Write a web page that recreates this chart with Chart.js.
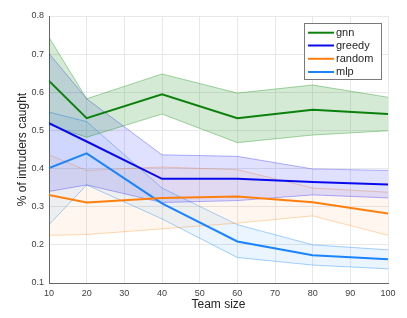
<!DOCTYPE html>
<html>
<head>
<meta charset="utf-8">
<script src="https://cdn.jsdelivr.net/npm/chart.js@4.4.1/dist/chart.umd.min.js"></script>
<style>
  html, body { margin: 0; padding: 0; background: #ffffff; }
  #wrap { width: 407px; height: 318px; position: relative; }
</style>
</head>
<body>
<div id="wrap"><canvas id="c" width="407" height="318"></canvas></div>
<script>
// ---- data ----
const teamSizes = [10, 20, 40, 60, 80, 100];

const gnnMean  = [0.630, 0.532, 0.595, 0.532, 0.554, 0.543];
const gnnUpper = [0.744, 0.583, 0.648, 0.598, 0.619, 0.587];
const gnnLower = [0.515, 0.482, 0.543, 0.468, 0.488, 0.499];

const greedyMean  = [0.519, 0.471, 0.373, 0.373, 0.365, 0.358];
const greedyUpper = [0.702, 0.583, 0.436, 0.432, 0.399, 0.395];
const greedyLower = [0.340, 0.357, 0.311, 0.316, 0.331, 0.323];

const randomMean  = [0.331, 0.311, 0.323, 0.327, 0.312, 0.282];
const randomUpper = [0.436, 0.395, 0.404, 0.397, 0.349, 0.338];
const randomLower = [0.225, 0.227, 0.242, 0.257, 0.276, 0.225];

const mlpMean  = [0.401, 0.440, 0.309, 0.209, 0.173, 0.162];
const mlpUpper = [0.548, 0.523, 0.349, 0.253, 0.200, 0.187];
const mlpLower = [0.253, 0.357, 0.268, 0.167, 0.147, 0.137];

const seriesNames = ['gnn', 'greedy', 'random', 'mlp'];
const yTicks = [0.1, 0.2, 0.3, 0.4, 0.5, 0.6, 0.7, 0.8];
const xTicks = [10, 20, 30, 40, 50, 60, 70, 80, 90, 100];

// ---- styles ----
const lineColors = ['#0b800b', '#0a0aee', '#ff7f0e', '#1a84ff'];
const bandFill   = ['rgba(0,128,0,0.17)', 'rgba(0,0,255,0.12)', 'rgba(255,140,30,0.07)', 'rgba(0,128,255,0.08)'];
const bandEdge   = ['rgba(0,140,0,0.35)', 'rgba(40,40,255,0.35)', 'rgba(255,140,30,0.35)', 'rgba(30,140,255,0.40)'];

const means  = [gnnMean, greedyMean, randomMean, mlpMean];
const uppers = [gnnUpper, greedyUpper, randomUpper, mlpUpper];
const lowers = [gnnLower, greedyLower, randomLower, mlpLower];

const toPts = arr => arr.map((v, i) => ({ x: teamSizes[i], y: v }));

const datasets = [];
// mean lines (indices 0..3)
seriesNames.forEach((name, i) => {
  datasets.push({
    label: name,
    data: toPts(means[i]),
    borderColor: lineColors[i],
    backgroundColor: lineColors[i],
    borderWidth: 2,
    pointRadius: 0,
    tension: 0,
    fill: false,
    order: 0
  });
});
// bands (upper fills to lower)
seriesNames.forEach((name, i) => {
  const upIdx = datasets.length;
  datasets.push({
    label: name + ' upper',
    data: toPts(uppers[i]),
    borderColor: bandEdge[i],
    backgroundColor: bandFill[i],
    borderWidth: 1,
    pointRadius: 0,
    tension: 0,
    fill: upIdx + 1,
    order: 5
  });
  datasets.push({
    label: name + ' lower',
    data: toPts(lowers[i]),
    borderColor: bandEdge[i],
    backgroundColor: bandFill[i],
    borderWidth: 1,
    pointRadius: 0,
    tension: 0,
    fill: false,
    order: 5
  });
});

const legendPlugin = {
  id: 'boxLegend',
  afterDraw(chart) {
    const ctx = chart.ctx;
    const bx = 304.5, by = 23.5, bw = 77, bh = 56;
    ctx.save();
    ctx.fillStyle = '#ffffff';
    ctx.fillRect(bx, by, bw, bh);
    ctx.strokeStyle = '#7a7a7a';
    ctx.lineWidth = 1;
    ctx.strokeRect(bx, by, bw, bh);
    ctx.font = '11px "Liberation Sans", Arial, sans-serif';
    ctx.textBaseline = 'middle';
    ctx.textAlign = 'left';
    const rowY = [32.7, 45.5, 58.8, 72.0];
    seriesNames.forEach((name, i) => {
      const y = rowY[i];
      ctx.strokeStyle = lineColors[i];
      ctx.lineWidth = 2;
      ctx.beginPath();
      ctx.moveTo(308, y);
      ctx.lineTo(334, y);
      ctx.stroke();
      ctx.fillStyle = '#262626';
      ctx.fillText(name, 336, y);
    });
    ctx.restore();
  }
};

new Chart(document.getElementById('c'), {
  type: 'line',
  data: { datasets },
  options: {
    responsive: false,
    animation: false,
    events: [],
    layout: { padding: { left: 0, top: 16, right: 19, bottom: 0 } },
    plugins: {
      legend: { display: false },
      tooltip: { enabled: false }
    },
    scales: {
      x: {
        type: 'linear',
        min: 10, max: 100,
        afterBuildTicks: s => { s.ticks = xTicks.map(v => ({ value: v })); },
        ticks: {
          font: { family: '"Liberation Sans", Arial, sans-serif', size: 9 },
          color: '#404040',
          padding: 5,
          maxRotation: 0,
          callback: v => String(v)
        },
        grid: { color: '#e8e8e8', drawTicks: false, lineWidth: 1 },
        border: { color: '#666666', width: 1 },
        title: {
          display: true,
          text: 'Team size',
          font: { family: '"Liberation Sans", Arial, sans-serif', size: 12 },
          color: '#262626',
          padding: { top: 0, bottom: 6 }
        },
        afterFit: s => { s.height = 35; }
      },
      y: {
        type: 'linear',
        min: 0.1, max: 0.8,
        afterBuildTicks: s => { s.ticks = yTicks.map(v => ({ value: v })); },
        ticks: {
          font: { family: '"Liberation Sans", Arial, sans-serif', size: 9 },
          color: '#404040',
          padding: 5,
          callback: v => Number(v).toFixed(1)
        },
        grid: { color: '#e8e8e8', drawTicks: false, lineWidth: 1 },
        border: { color: '#666666', width: 1 },
        title: {
          display: true,
          text: '% of intruders caught',
          font: { family: '"Liberation Sans", Arial, sans-serif', size: 12 },
          color: '#262626',
          padding: { top: 15, bottom: 0 }
        },
        afterFit: s => { s.width = 49; }
      }
    }
  },
  plugins: [legendPlugin]
});
</script>
</body>
</html>
